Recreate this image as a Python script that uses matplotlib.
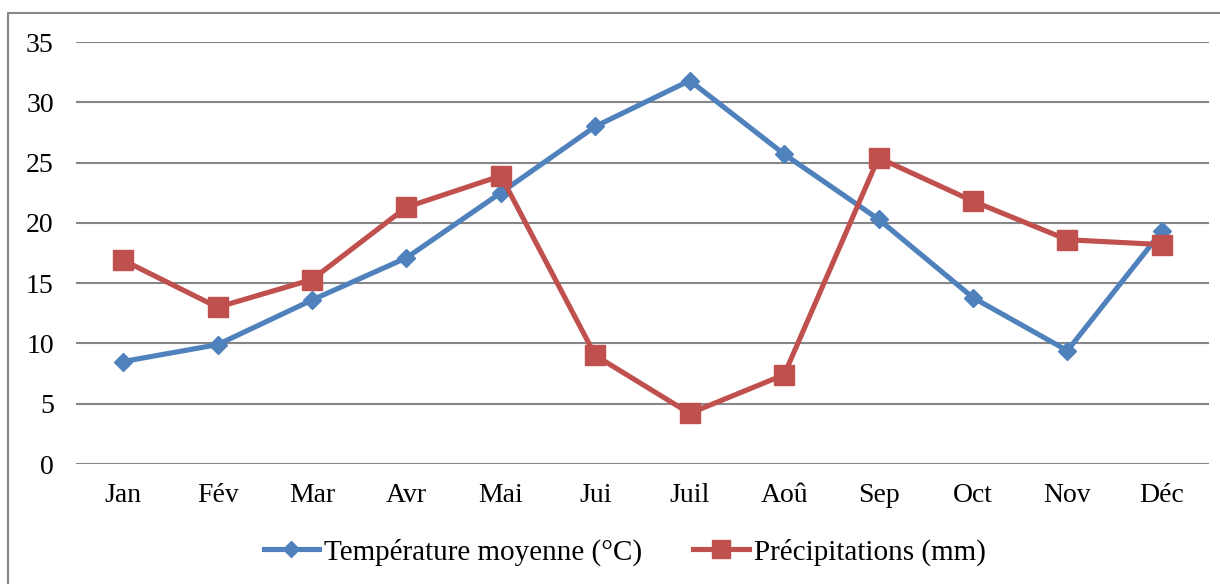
import numpy as np
import matplotlib.pyplot as plt
from matplotlib.patches import Rectangle

# donnees
mois = ['Jan', 'Fév', 'Mar', 'Avr', 'Mai', 'Jui', 'Juil', 'Aoû', 'Sep', 'Oct', 'Nov', 'Déc']
temperature = [8.5, 9.9, 13.6, 17.1, 22.5, 28.0, 31.8, 25.7, 20.3, 13.8, 9.4, 19.3]
precipitations = [16.9, 13.0, 15.3, 21.3, 23.9, 9.0, 4.2, 7.4, 25.4, 21.8, 18.6, 18.2]
yticks = [0, 5, 10, 15, 20, 25, 30, 35]

plt.rcParams['font.family'] = ['Liberation Serif', 'DejaVu Serif']

fig = plt.figure(figsize=(12.2, 5.84), dpi=100)
ax = fig.add_axes([76/1220, 120/584, (1209-76)/1220, (464-42)/584])

x = np.arange(len(mois))
ax.plot(x, temperature, color='#4F81BD', lw=3.7, marker='D', ms=9.4,
        label='Température moyenne (°C)')
ax.plot(x, precipitations, color='#C0504D', lw=3.7, marker='s', ms=14,
        label='Précipitations (mm)')

ax.set_xlim(-0.5, len(mois) - 0.5)
ax.set_ylim(0, 35)
ax.set_yticks(yticks)
ax.set_xticks(x)
ax.set_xticklabels(mois)
for s in ax.spines.values():
    s.set_visible(False)
ax.yaxis.grid(True, color='#868686', lw=1.5)
ax.set_axisbelow(True)
ax.tick_params(length=0, labelsize=20, colors='black')
ax.tick_params(axis='y', pad=16)
ax.tick_params(axis='x', pad=14)

# cadre du graphique (coupe a droite et en bas)
fig.patches.append(Rectangle((8/1220, -0.05), 1.2, (584-13)/584 + 0.05,
                             transform=fig.transFigure, fill=False,
                             edgecolor='#868686', lw=1.5))

leg = fig.legend(loc='center', bbox_to_anchor=(624.5/1220, 32/584), ncol=2,
                 frameon=False, fontsize=21, handlelength=1.9, handletextpad=0.17,
                 columnspacing=1.75, markerscale=0.9)

fig.savefig('out.png', dpi=100)
